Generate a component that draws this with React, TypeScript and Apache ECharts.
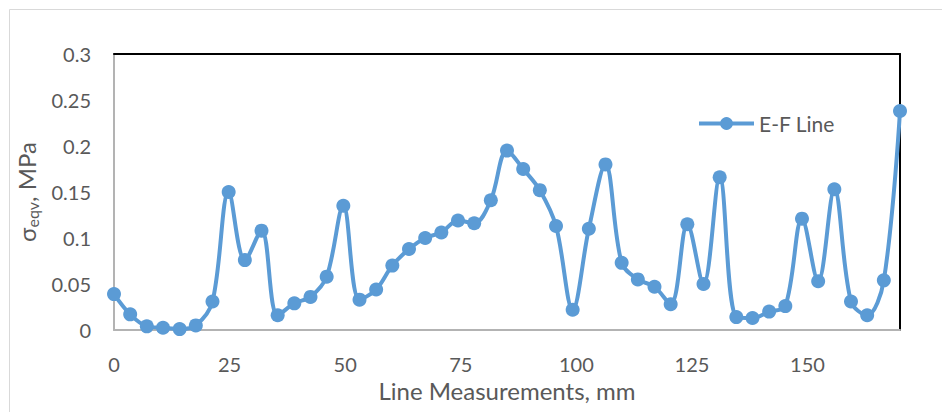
import React, { useEffect, useRef } from "react";
import * as echarts from "echarts";

const xValues = [
  0, 3.5, 7.1, 10.6, 14.2, 17.7, 21.3, 24.8, 28.3, 31.9, 35.4, 39.0, 42.5, 46.0, 49.6, 53.1, 56.7,
  60.2, 63.8, 67.3, 70.8, 74.4, 77.9, 81.5, 85.0, 88.5, 92.1, 95.6, 99.2, 102.7, 106.3, 109.8,
  113.3, 116.9, 120.4, 124.0, 127.5, 131.0, 134.6, 138.1, 141.7, 145.2, 148.8, 152.3, 155.8,
  159.4, 162.9, 166.5, 170,
];
const stressValues = [
  0.039, 0.017, 0.004, 0.0025, 0.001, 0.005, 0.031, 0.15, 0.076, 0.108, 0.016, 0.029, 0.036,
  0.058, 0.135, 0.033, 0.044, 0.07, 0.088, 0.1, 0.106, 0.119, 0.116, 0.141, 0.195, 0.175, 0.152,
  0.113, 0.022, 0.11, 0.18, 0.073, 0.055, 0.047, 0.028, 0.115, 0.05, 0.166, 0.014, 0.013, 0.02,
  0.026, 0.121, 0.053, 0.153, 0.031, 0.016, 0.054, 0.238,
];
const seriesName = "E-F Line";
const xTitle = "Line Measurements, mm";

const FONT = "Lato, 'Open Sans', sans-serif";
const TEXT = "#595959";
const BLUE = "#5B9BD5";

export default function App() {
  const ref = useRef<HTMLDivElement>(null);
  useEffect(() => {
    if (!ref.current) return;
    const chart = echarts.init(ref.current, null, { renderer: "svg" });
    const data = xValues.map((x, i) => [x, stressValues[i]]);
    chart.setOption({
      animation: false,
      backgroundColor: "#ffffff",
      textStyle: { fontFamily: FONT },
      grid: { left: 114, right: 42, top: 54, bottom: 82, containLabel: false },
      graphic: [
        {
          type: "rect",
          shape: { x: 9.5, y: 9.5, width: 1000, height: 1000 },
          style: { fill: "none", stroke: "#d9d9d9", lineWidth: 1 },
          silent: true,
        },
      ],
      legend: {
        data: [seriesName],
        left: 697,
        top: 113,
        padding: 0,
        itemWidth: 55,
        itemHeight: 16,
        lineStyle: { width: 4, color: BLUE },
        textStyle: { color: TEXT, fontSize: 21, fontFamily: FONT },
      },
      xAxis: [
        {
          type: "value",
          min: 0,
          max: 170,
          interval: 25,
          name: xTitle,
          nameLocation: "middle",
          nameGap: 48,
          nameTextStyle: { color: TEXT, fontSize: 24, fontFamily: FONT },
          axisLine: { show: true, onZero: false, lineStyle: { color: "#b3b3b3", width: 2 } },
          axisTick: { show: false },
          splitLine: { show: false },
          axisLabel: {
            color: TEXT,
            fontSize: 20,
            fontFamily: FONT,
            margin: 24,
            showMaxLabel: false,
          },
        },
        {
          type: "value",
          position: "top",
          min: 0,
          max: 170,
          interval: 25,
          axisLine: { show: true, onZero: false, lineStyle: { color: "#000000", width: 2 } },
          axisTick: { show: false },
          axisLabel: { show: false },
          splitLine: { show: false },
        },
      ],
      yAxis: [
        {
          type: "value",
          min: 0,
          max: 0.3,
          interval: 0.05,
          name: "{a|σ}{b|eqv}{a|, MPa}",
          nameLocation: "middle",
          nameRotate: 90,
          nameGap: 66,
          nameTextStyle: {
            color: TEXT,
            rich: {
              a: { fontSize: 24, lineHeight: 28, color: TEXT, fontFamily: FONT },
              b: {
                fontSize: 16,
                lineHeight: 16,
                verticalAlign: "bottom",
                color: TEXT,
                fontFamily: FONT,
              },
            },
          },
          axisLine: { show: true, onZero: false, lineStyle: { color: "#b3b3b3", width: 2 } },
          axisTick: { show: false },
          splitLine: { show: false },
          axisLabel: { color: TEXT, fontSize: 20, fontFamily: FONT, margin: 23 },
        },
        {
          type: "value",
          position: "right",
          min: 0,
          max: 0.3,
          interval: 0.05,
          axisLine: { show: true, onZero: false, lineStyle: { color: "#000000", width: 2 } },
          axisTick: { show: false },
          axisLabel: { show: false },
          splitLine: { show: false },
        },
      ],
      series: [
        {
          name: seriesName,
          type: "line",
          data,
          smooth: 0.35,
          clip: false,
          symbol: "circle",
          symbolSize: 14,
          lineStyle: { color: BLUE, width: 4 },
          itemStyle: { color: BLUE },
          z: 5,
        },
      ],
    });
    return () => chart.dispose();
  }, []);
  return (
    <div
      ref={ref}
      style={{ position: "fixed", left: 0, top: 0, width: 942, height: 412 }}
    />
  );
}
